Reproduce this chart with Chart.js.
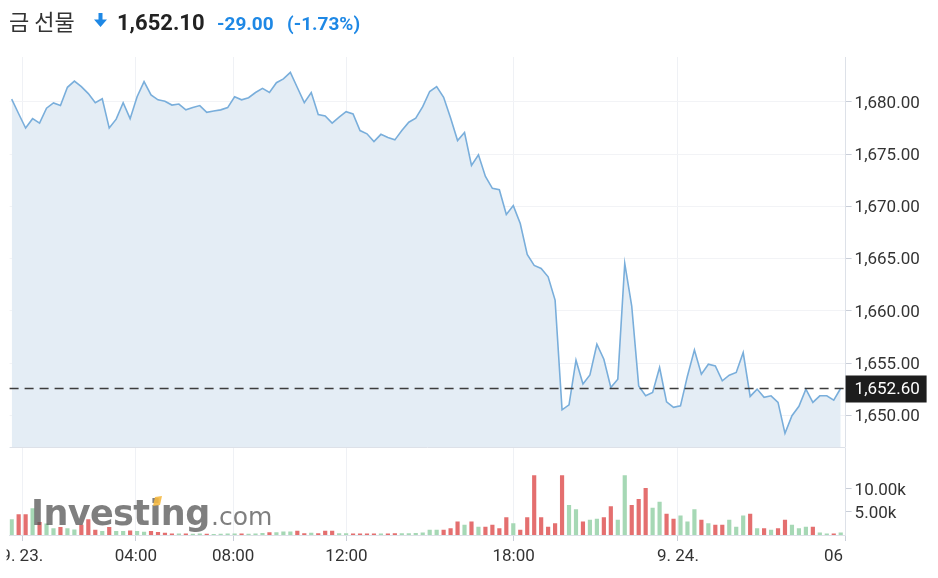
<!DOCTYPE html>
<html>
<head>
<meta charset="utf-8">
<script src="https://cdn.jsdelivr.net/npm/chart.js@4.4.0/dist/chart.umd.min.js"></script>
<style>
  html, body { margin: 0; padding: 0; background: #fff; }
  #wrap { position: relative; width: 938px; height: 578px; overflow: hidden; }
  #priceCanvas { position: absolute; left: 0; top: 0; }
  #volCanvas { position: absolute; left: 0; top: 447px; }
  #overlay { position: absolute; left: 0; top: 0; pointer-events: none; }
</style>
</head>
<body>
<div id="wrap">
  <canvas id="priceCanvas" width="938" height="447"></canvas>
  <canvas id="volCanvas" width="938" height="131"></canvas>
  <svg id="overlay" width="938" height="578">
    <text id="hName" x="9" y="30" font-family="Noto Sans CJK KR" font-size="22" fill="#333"></text>
    <path d="M98.5 13 H102.5 V19.5 H107 L100.5 27 L94 19.5 H98.5 Z" fill="#1e88e5"/>
    <text id="hLast" x="117" y="30" font-family="Roboto" font-weight="bold" font-size="22" fill="#222"></text>
    <text id="hChg" x="217" y="30" font-family="Roboto" font-weight="bold" font-size="19" fill="#1e88e5"></text>
    <text id="hPct" x="287" y="30" font-family="Roboto" font-weight="bold" font-size="19" fill="#1e88e5"></text>
    <g opacity="0.75">
      <text x="31" y="525" font-family="DejaVu Sans" font-weight="bold" font-size="35" letter-spacing="-0.6" fill="#555">Investing</text>
      <text x="211" y="525" font-family="DejaVu Sans" font-size="25" fill="#555">.com</text>
    </g>
    <path d="M155 497 L162 496 L160 505 L153 506 Z" fill="#f5b942" opacity="0.9"/>
  </svg>
</div>
<script>
const title = "금 선물";
const lastTrade = "1,652.10";
const change = "-29.00";
const changePct = "(-1.73%)";

const lastPrice = 1652.60;

// 15분봉 종가
const prices = [
  1680.26, 1678.87, 1677.5, 1678.4, 1677.97, 1679.4, 1679.9, 1679.65, 1681.4, 1682.0,
  1681.46, 1680.8, 1679.93, 1680.3, 1677.5, 1678.35, 1679.93, 1678.4, 1680.5, 1681.95,
  1680.67, 1680.2, 1680.07, 1679.7, 1679.8, 1679.24, 1679.46, 1679.65, 1679.0, 1679.14,
  1679.24, 1679.46, 1680.5, 1680.2, 1680.4, 1680.9, 1681.3, 1680.9, 1681.84, 1682.2,
  1682.83, 1681.38, 1679.93, 1680.9, 1678.8, 1678.66, 1677.97, 1678.54, 1679.07, 1678.85,
  1677.26, 1676.95, 1676.2, 1676.9, 1676.6, 1676.37, 1677.26, 1678.06, 1678.44, 1679.55,
  1681.0, 1681.46, 1680.45, 1678.47, 1676.3, 1677.07, 1673.92, 1674.94, 1672.87, 1671.73,
  1671.6, 1669.22, 1670.08, 1668.36, 1665.4, 1664.35, 1664.06, 1663.27, 1661.04, 1650.54,
  1651.02, 1655.29, 1653.0, 1653.88, 1656.81, 1655.38, 1652.68, 1653.47, 1664.54, 1660.47,
  1652.83, 1651.88, 1652.2, 1654.59, 1651.3, 1650.77, 1650.92, 1653.78, 1656.27, 1653.95,
  1654.9, 1654.74, 1653.31, 1653.85, 1654.11, 1656.02, 1651.82, 1652.52, 1651.73, 1651.88,
  1651.25, 1648.29, 1649.97, 1650.87, 1652.52, 1651.25, 1651.88, 1651.88, 1651.47, 1652.6
];

const volumes = [
  3400, 4500, 4500, 5800, 2800, 2500, 1450, 1750, 1450, 1200,
  2200, 3400, 1150, 870, 1750, 870, 870, 1000, 870, 720,
  870, 650, 500, 300, 300, 300, 250, 300, 250, 200,
  250, 300, 350, 300, 250, 350, 450, 600, 600, 750,
  750, 900, 400, 500, 400, 900, 900, 400, 400, 300,
  350, 300, 350, 300, 350, 400, 370, 370, 450, 520,
  1120, 1120, 1120, 1490, 2910, 2240, 2910, 1790, 1790, 2240,
  1490, 3880, 2540, 1120, 3880, 13000, 3880, 1790, 2540, 13000,
  6500, 5600, 2910, 3290, 3510, 3880, 6270, 3290, 13000, 6500,
  7840, 10230, 5900, 7240, 4630, 3510, 4260, 2910, 5600, 3290,
  2540, 2240, 2240, 3290, 1790, 4260, 4630, 1490, 1490, 1120,
  1490, 3290, 2240, 1490, 1790, 1790, 520, 300, 300, 520
];

const xTickPos = [1.52, 17.83, 31.8, 48.06, 72.04, 95.64, 119.64];
const xTickLabels = ["9. 23.", "04:00", "08:00", "12:00", "18:00", "9. 24.", "06:00"];
const priceTicks = [1650, 1655, 1660, 1665, 1670, 1675, 1680];
const volTicks = [5000, 10000];

document.getElementById("hName").textContent = title;
document.getElementById("hLast").textContent = lastTrade;
document.getElementById("hChg").textContent = change;
document.getElementById("hPct").textContent = changePct;

const AXIS_W = 92.4;
const FONT = { family: "Roboto", size: 17 };
const TEXT = "#333";
const GRID = "#eff1f5";
const BORDER = "#dde1e8";
const TICKC = "#c9ced8";

function fmtPrice(v) {
  return Number(v).toLocaleString("en-US", { minimumFractionDigits: 2, maximumFractionDigits: 2 });
}

// right axis: fixed width, no extra label padding above/below the pane
function fitRightAxis(s) {
  s.width = AXIS_W;
  s.paddingTop = 0;
  s.paddingBottom = 0;
}

const lastPricePlugin = {
  id: "lastPrice",
  afterDraw(chart) {
    const { ctx, chartArea, scales } = chart;
    const y = Math.round(scales.y.getPixelForValue(lastPrice)) + 0.5;
    ctx.save();
    ctx.strokeStyle = "#3c3c3c";
    ctx.lineWidth = 1.3;
    ctx.setLineDash([9, 6]);
    ctx.beginPath();
    ctx.moveTo(chartArea.left, y);
    ctx.lineTo(chartArea.right, y);
    ctx.stroke();
    ctx.setLineDash([]);
    ctx.fillStyle = "#1d1d1d";
    ctx.fillRect(chartArea.right, y - 13, 81, 27);
    ctx.fillStyle = "#fff";
    ctx.font = "17px Roboto";
    ctx.textBaseline = "middle";
    ctx.fillText(fmtPrice(lastPrice), chartArea.right + 9, y + 1.5);
    ctx.restore();
  }
};

const xLabelsPlugin = {
  id: "xLabels",
  afterDraw(chart) {
    const { ctx, chartArea, scales } = chart;
    ctx.save();
    // separator between price pane and volume pane
    ctx.strokeStyle = BORDER;
    ctx.lineWidth = 1;
    ctx.beginPath();
    ctx.moveTo(chartArea.left, 0.5);
    ctx.lineTo(chartArea.right, 0.5);
    ctx.stroke();
    ctx.beginPath();
    ctx.rect(chartArea.left - 3, chartArea.bottom, chartArea.right - chartArea.left, 60);
    ctx.clip();
    ctx.fillStyle = TEXT;
    ctx.font = "17px Roboto";
    ctx.textAlign = "center";
    ctx.textBaseline = "middle";
    xTickPos.forEach((v, i) => {
      ctx.fillText(xTickLabels[i], scales.x.getPixelForValue(v), chartArea.bottom + 22);
    });
    ctx.restore();
  }
};

const xScale = (height, drawTicks) => ({
  type: "linear",
  offset: false,
  min: -0.3,
  max: 119.7,
  afterBuildTicks: (s) => { s.ticks = xTickPos.map(v => ({ value: v })); },
  afterFit: (s) => { s.height = height; s.paddingLeft = 0; s.paddingRight = 0; },
  ticks: { display: false },
  grid: { color: GRID, offset: false, drawTicks: drawTicks, tickLength: 6, tickColor: TICKC },
  border: { display: drawTicks, color: BORDER }
});

new Chart(document.getElementById("priceCanvas"), {
  type: "line",
  data: {
    datasets: [{
      data: prices.map((p, i) => ({ x: i, y: p })),
      borderColor: "#79aedb",
      borderWidth: 1.6,
      backgroundColor: "#e4edf5",
      fill: "start",
      pointRadius: 0,
      tension: 0
    }]
  },
  options: {
    responsive: false,
    animation: false,
    layout: { padding: { left: 9.6, top: 57, right: 0, bottom: 0 } },
    plugins: { legend: { display: false }, tooltip: { enabled: false } },
    scales: {
      x: xScale(0, false),
      y: {
        position: "right",
        min: 1646.98,
        max: 1684.3,
        afterBuildTicks: (s) => { s.ticks = priceTicks.map(v => ({ value: v })); },
        afterFit: fitRightAxis,
        ticks: { font: FONT, color: TEXT, padding: 3, labelOffset: 1.5, callback: (v) => fmtPrice(v) },
        grid: { color: "#f2f3f6", tickLength: 6, tickColor: TICKC },
        border: { color: BORDER }
      }
    }
  },
  plugins: [lastPricePlugin]
});

new Chart(document.getElementById("volCanvas"), {
  type: "bar",
  data: {
    datasets: [{
      data: volumes.map((v, i) => ({ x: i, y: v })),
      backgroundColor: volumes.map((v, i) => (i === 0 || prices[i] >= prices[i - 1]) ? "#a6d8b5" : "#e46f6f"),
      barPercentage: 0.6,
      categoryPercentage: 1
    }]
  },
  options: {
    responsive: false,
    animation: false,
    layout: { padding: { left: 9.6, top: 1, right: 0, bottom: 37 } },
    plugins: { legend: { display: false }, tooltip: { enabled: false } },
    scales: {
      x: xScale(6, true),
      y: {
        position: "right",
        min: 0,
        max: 18900,
        afterBuildTicks: (s) => { s.ticks = volTicks.map(v => ({ value: v })); },
        afterFit: fitRightAxis,
        ticks: { font: FONT, color: TEXT, padding: 3, labelOffset: 1.5, callback: (v) => (v / 1000).toFixed(2) + "k" },
        grid: { drawOnChartArea: false, tickLength: 6, tickColor: TICKC },
        border: { color: BORDER }
      }
    }
  },
  plugins: [xLabelsPlugin]
});
</script>
</body>
</html>
